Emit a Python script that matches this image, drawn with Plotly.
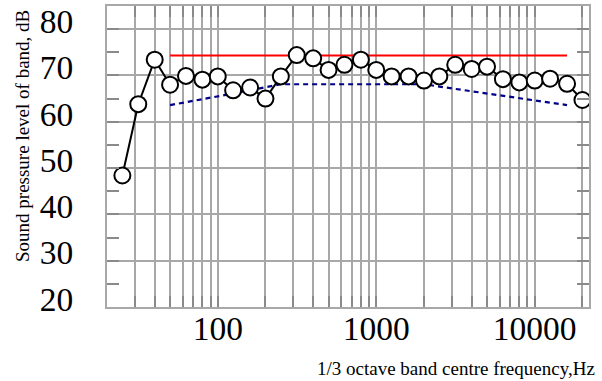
import numpy as np
import plotly.graph_objects as go

freqs = [25, 31.5, 40, 50, 63, 80, 100, 125, 160, 200, 250, 315, 400, 500, 630, 800,
         1000, 1250, 1600, 2000, 2500, 3150, 4000, 5000, 6300, 8000, 10000, 12500, 16000, 20000]
measured = [48.4, 63.8, 73.4, 68.0, 69.9, 69.1, 69.8, 66.8, 67.4, 65.0, 69.8, 74.4, 73.7, 71.2,
            72.3, 73.4, 71.2, 69.8, 69.8, 68.9, 69.8, 72.3, 71.4, 71.9, 69.2, 68.5, 68.9, 69.3, 68.2, 64.7]

limit_freqs = [50, 63, 80, 100, 125, 160, 200, 250, 315, 400, 500, 630, 800, 1000, 1250, 1600,
               2000, 2500, 3150, 4000, 5000, 6300, 8000, 10000, 12500, 16000]
upper_limit = [74.3] * len(limit_freqs)
lower_curve = [63.6, 64.2, 64.8, 65.5, 66.1, 66.8, 67.4, 68.1, 68.1, 68.1, 68.1, 68.1, 68.1, 68.1,
               68.1, 68.1, 68.1, 67.6, 67.1, 66.6, 66.1, 65.6, 65.0, 64.6, 64.1, 63.6]

grid_vals = [20, 30, 40, 50, 60, 70, 80, 90, 100, 200, 300, 400, 500, 600, 700, 800, 900,
             1000, 2000, 3000, 4000, 5000, 6000, 7000, 8000, 9000, 10000, 20000]
grid_text = ["100" if v == 100 else "1000" if v == 1000 else "10000" if v == 10000 else "" for v in grid_vals]
y_ticks = [20, 30, 40, 50, 60, 70, 80]

font = "Liberation Serif, Times New Roman, serif"
gridc = "#a8a8a8"
tickc = "#8a8a8a"

L, R, T, B = 107, 589, 6, 307
W, H = 602, 381

fig = go.Figure()
fig.add_trace(go.Scatter(x=limit_freqs, y=upper_limit, mode="lines",
                         line=dict(color="#ff0000", width=2), showlegend=False))
fig.add_trace(go.Scatter(x=limit_freqs, y=lower_curve, mode="lines",
                         line=dict(color="#00008b", width=2.2, dash="5px,4px"), showlegend=False))
fig.add_trace(go.Scatter(x=freqs, y=measured, mode="lines+markers",
                         line=dict(color="black", width=2),
                         marker=dict(symbol="circle", size=16, color="white",
                                     line=dict(color="black", width=2)),
                         showlegend=False))

fig.update_layout(
    width=W, height=H,
    margin=dict(l=L, r=W - R, t=T, b=H - B, autoexpand=False),
    paper_bgcolor="white", plot_bgcolor="white",
    font=dict(family=font, color="black"),
    xaxis=dict(type="log", range=[np.log10(20), np.log10(22000)],
               tickmode="array", tickvals=grid_vals, ticktext=grid_text,
               showgrid=True, gridcolor=gridc, gridwidth=1.5,
               ticks="inside", ticklen=11, tickcolor=tickc, tickwidth=2,
               showline=True, linecolor=gridc, linewidth=2, mirror="ticks",
               tickfont=dict(size=33.5, family=font), ticklabelstandoff=-9,
               zeroline=False, automargin=False),
    yaxis=dict(range=[20, 85], tickmode="array", tickvals=y_ticks,
               showgrid=True, gridcolor=gridc, gridwidth=1.5,
               ticks="inside", ticklen=12, tickcolor=tickc, tickwidth=2,
               minor=dict(tickmode="array", tickvals=[25, 35, 45, 55, 65, 75], ticks="inside",
                          ticklen=12, tickcolor=tickc, tickwidth=2, showgrid=False),
               showline=True, linecolor=gridc, linewidth=2, mirror="ticks",
               tickfont=dict(size=33.5, family=font), ticklabelshift=-8, ticklabelstandoff=25,
               zeroline=False, automargin=False),
)
fig.add_annotation(text="1/3 octave band centre frequency,Hz", xref="paper", yref="paper",
                   x=(456 - L) / (R - L), y=-(368 - B) / (B - T),
                   showarrow=False, xanchor="center", yanchor="middle",
                   font=dict(size=19, family=font))
fig.add_annotation(text="Sound pressure level of band, dB", xref="paper", yref="paper",
                   x=-(L - 22) / (R - L), y=(B - 136) / (B - T), textangle=-90,
                   showarrow=False, xanchor="center", yanchor="middle",
                   font=dict(size=19, family=font))

fig.write_html("out.html", config={"displayModeBar": False},
               post_script="document.body.style.margin='0';")
